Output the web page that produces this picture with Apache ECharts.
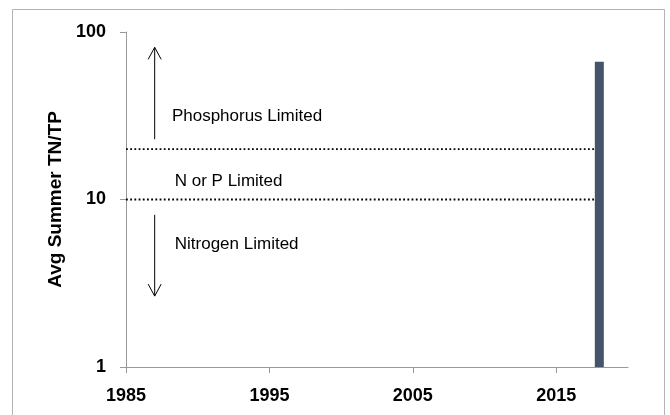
<!DOCTYPE html>
<html>
<head>
<meta charset="utf-8">
<script src="https://cdn.jsdelivr.net/npm/echarts@6/dist/echarts.min.js"></script>
<style>
  html, body { margin: 0; padding: 0; background: #fff; }
  #chart { width: 670px; height: 415px; }
</style>
</head>
<body>
<div id="chart"></div>
<script>
// data
var years = [2018];
var ratio = [66.5];
var limitValues = [10, 20];          // N/P limitation thresholds
var lineFrom = 1985, lineTo = 2018;
var xTicks = [1985, 1995, 2005, 2015];

// annotations, in data units
var arrowX = [1987, 1987];
var arrowFrom = [22.9, 8.1];
var arrowTo = [81, 2.65];
var noteX = [1988.2, 1988.4, 1988.4];
var noteY = [31.2, 12.8, 5.42];
var noteText = ['Phosphorus Limited', 'N or P Limited', 'Nitrogen Limited'];

var FONT = 'Liberation Sans';

var chart = echarts.init(document.getElementById('chart'));

var barData = years.map(function (y, i) { return [y, ratio[i]]; });

var thresholdSeries = limitValues.map(function (v) {
  return {
    type: 'line',
    data: [[lineFrom, v], [lineTo, v]],
    symbol: 'none',
    silent: true,
    lineStyle: { color: '#000', width: 1.8, type: [1.8, 2.4] },
    z: 3
  };
});

function renderArrow(params, api) {
  var p0 = api.coord([api.value(0), api.value(1)]);
  var p1 = api.coord([api.value(0), api.value(2)]);
  var dir = p1[1] < p0[1] ? -1 : 1;
  var hx = 6.5, hy = 12;
  return {
    type: 'group',
    children: [
      { type: 'line', shape: { x1: p0[0], y1: p0[1], x2: p1[0], y2: p1[1] },
        style: { stroke: '#000', lineWidth: 1 } },
      { type: 'polyline',
        shape: { points: [[p1[0] - hx, p1[1] - dir * hy], [p1[0], p1[1]], [p1[0] + hx, p1[1] - dir * hy]] },
        style: { stroke: '#000', fill: null, lineWidth: 1 } }
    ]
  };
}

function renderNote(params, api) {
  var p = api.coord([api.value(0), api.value(1)]);
  return {
    type: 'text',
    x: p[0], y: p[1],
    style: { text: noteText[params.dataIndex], fill: '#000', font: '17px "' + FONT + '"',
             align: 'left', verticalAlign: 'middle' }
  };
}

var option = {
  animation: false,
  backgroundColor: '#fff',
  graphic: [{
    type: 'rect',
    shape: { x: 12.5, y: 9.5, width: 652, height: 420 },
    style: { fill: null, stroke: '#b3b3b3', lineWidth: 1 },
    silent: true
  }],
  grid: { left: 126, right: 42, top: 32, bottom: 48 },
  xAxis: {
    type: 'value',
    min: 1985, max: 2020, interval: 10,
    axisLine: { lineStyle: { color: '#999', width: 1 } },
    axisTick: { show: true, length: 6, customValues: xTicks, lineStyle: { color: '#999' } },
    axisLabel: { customValues: xTicks, margin: 20, color: '#000', fontFamily: FONT,
                 fontWeight: 'bold', fontSize: 18,
                 formatter: function (v) { return String(v); } },
    splitLine: { show: false }
  },
  yAxis: {
    type: 'log', logBase: 10, min: 1, max: 100,
    name: 'Avg Summer TN/TP',
    nameLocation: 'middle',
    nameGap: 50,
    nameTextStyle: { color: '#000', fontFamily: FONT, fontWeight: 'bold', fontSize: 19 },
    axisLine: { show: true, lineStyle: { color: '#999', width: 1 } },
    axisTick: { show: true, length: 6, lineStyle: { color: '#999' } },
    minorTick: { show: false },
    axisLabel: { margin: 20, color: '#000', fontFamily: FONT, fontWeight: 'bold', fontSize: 18 },
    splitLine: { show: false }
  },
  series: [{
    type: 'bar',
    data: barData,
    barWidth: 9,
    itemStyle: { color: '#44546a' },
    z: 4
  }].concat(thresholdSeries).concat([{
    type: 'custom',
    renderItem: renderArrow,
    data: arrowX.map(function (x, i) { return [x, arrowFrom[i], arrowTo[i]]; }),
    silent: true,
    z: 5
  }, {
    type: 'custom',
    renderItem: renderNote,
    data: noteX.map(function (x, i) { return [x, noteY[i]]; }),
    silent: true,
    z: 5
  }])
};

chart.setOption(option);
</script>
</body>
</html>
